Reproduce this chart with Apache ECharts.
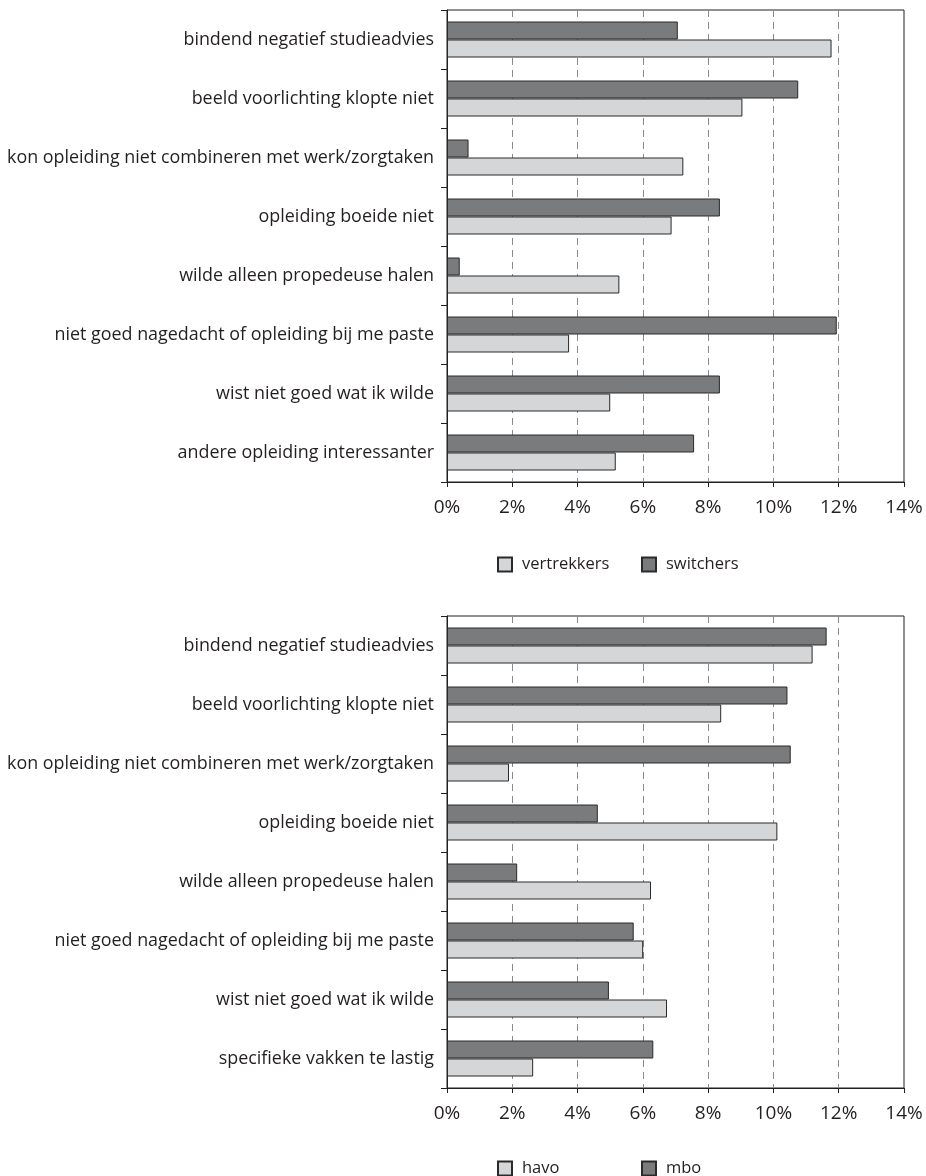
<!DOCTYPE html>
<html>
<head>
<meta charset="utf-8">
<script src="https://cdn.jsdelivr.net/npm/echarts@6/dist/echarts.min.js"></script>
<style>
  html, body { margin: 0; padding: 0; background: #fff; }
  #chart { width: 926px; height: 1176px; }
</style>
</head>
<body>
<div id="chart"></div>
<script>
const topCategories = [
  'bindend negatief studieadvies',
  'beeld voorlichting klopte niet',
  'kon opleiding niet combineren met werk/zorgtaken',
  'opleiding boeide niet',
  'wilde alleen propedeuse halen',
  'niet goed nagedacht of opleiding bij me paste',
  'wist niet goed wat ik wilde',
  'andere opleiding interessanter'
]
const switchers = [7.07, 10.76, 0.66, 8.36, 0.39, 11.94, 8.36, 7.57]
const vertrekkers = [11.78, 9.05, 7.24, 6.88, 5.28, 3.74, 5.0, 5.17]

const bottomCategories = [
  'bindend negatief studieadvies',
  'beeld voorlichting klopte niet',
  'kon opleiding niet combineren met werk/zorgtaken',
  'opleiding boeide niet',
  'wilde alleen propedeuse halen',
  'niet goed nagedacht of opleiding bij me paste',
  'wist niet goed wat ik wilde',
  'specifieke vakken te lastig'
]
const mbo = [11.63, 10.43, 10.53, 4.62, 2.15, 5.72, 4.96, 6.32]
const havo = [11.2, 8.4, 1.9, 10.12, 6.25, 6.01, 6.74, 2.64]

const xTicks = [0, 14, 2] // min, max, interval

const ink = '#231f20'
const darkFill = '#7a7b7d'
const lightFill = '#d5d6d8'
const font = 'Open Sans'

function valueAxis(gridIndex) {
  return {
    type: 'value',
    gridIndex,
    min: xTicks[0],
    max: xTicks[1],
    interval: xTicks[2],
    axisLine: { show: true, lineStyle: { color: ink, width: 1 } },
    axisTick: { show: true, length: 5, lineStyle: { color: ink } },
    axisLabel: {
      formatter: '{value}%',
      color: ink,
      fontFamily: font,
      fontSize: 19,
      margin: 16
    },
    splitLine: {
      show: true,
      showMinLine: false,
      showMaxLine: false,
      lineStyle: { color: '#8a8a8a', type: [7, 5], width: 1 }
    }
  }
}

function categoryAxis(gridIndex, cats) {
  return {
    type: 'category',
    gridIndex,
    data: cats,
    inverse: true,
    axisLine: { show: true, lineStyle: { color: ink, width: 1 } },
    axisTick: { show: true, length: 6, lineStyle: { color: ink } },
    axisLabel: {
      color: ink,
      fontFamily: font,
      fontSize: 17.9,
      margin: 13
    },
    splitLine: { show: false }
  }
}

function barSeries(name, data, fill, idx) {
  return {
    name,
    type: 'bar',
    xAxisIndex: idx,
    yAxisIndex: idx,
    data,
    barWidth: 18,
    barGap: '0%',
    itemStyle: { color: fill, borderColor: '#2a2a2a', borderWidth: 1 },
    emphasis: { disabled: true }
  }
}

function legendItem(name, left, top) {
  return {
    data: [name],
    left,
    top,
    padding: 0,
    itemWidth: 14,
    itemHeight: 14,
    icon: 'rect',
    textStyle: {
      color: ink,
      fontFamily: font,
      fontSize: 16.5,
      padding: [0, 0, 0, 5]
    }
  }
}

const chart = echarts.init(document.getElementById('chart'))
chart.setOption({
  animation: false,
  backgroundColor: '#fff',
  grid: [
    { left: 447, top: 10, width: 457, height: 472, show: true, borderColor: ink, borderWidth: 1, backgroundColor: 'transparent' },
    { left: 447, top: 616, width: 457, height: 472, show: true, borderColor: ink, borderWidth: 1, backgroundColor: 'transparent' }
  ],
  xAxis: [valueAxis(0), valueAxis(1)],
  yAxis: [categoryAxis(0, topCategories), categoryAxis(1, bottomCategories)],
  legend: [
    legendItem('vertrekkers', 497, 556),
    legendItem('switchers', 641, 556),
    legendItem('havo', 497, 1160),
    legendItem('mbo', 641, 1160)
  ],
  series: [
    barSeries('switchers', switchers, darkFill, 0),
    barSeries('vertrekkers', vertrekkers, lightFill, 0),
    barSeries('mbo', mbo, darkFill, 1),
    barSeries('havo', havo, lightFill, 1)
  ]
})
</script>
</body>
</html>
